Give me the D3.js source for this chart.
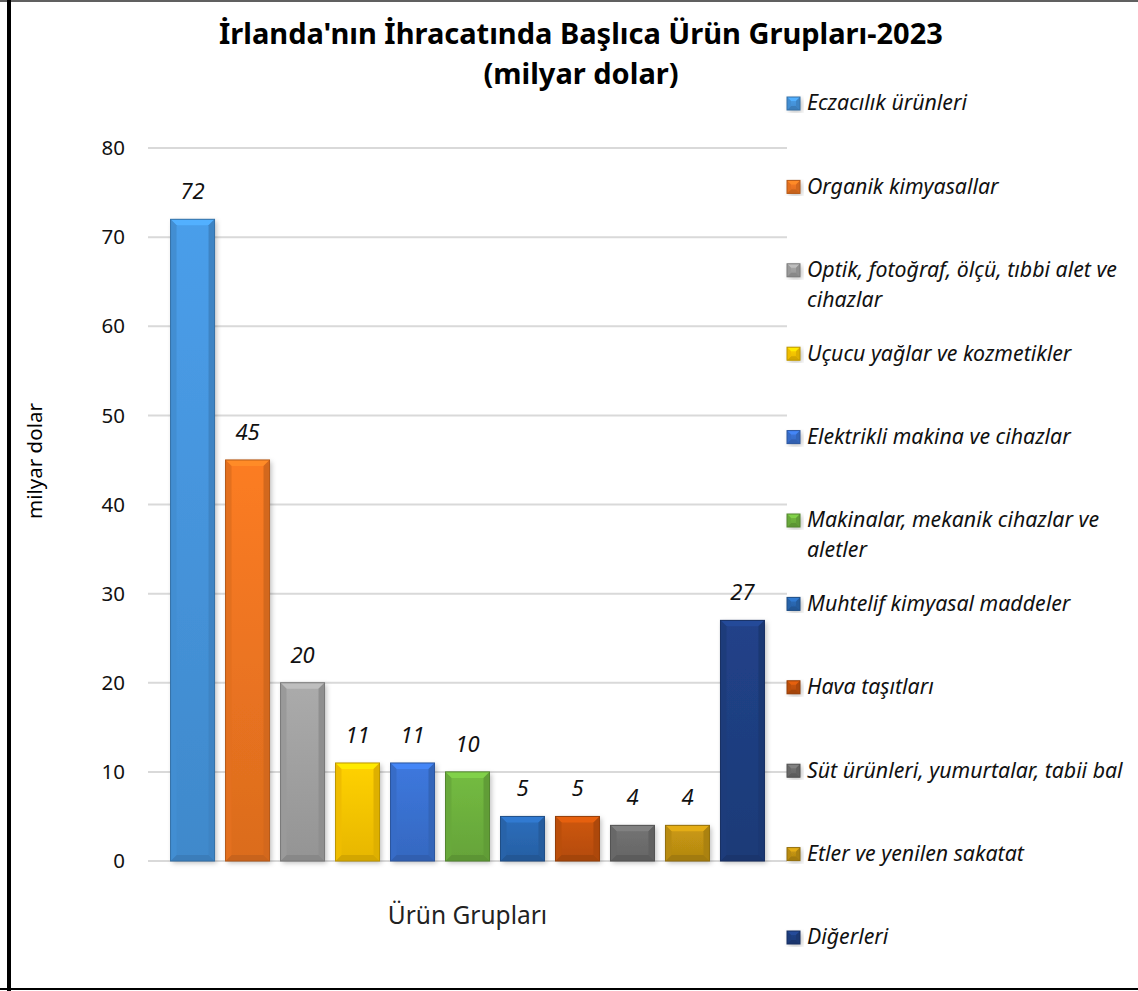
<!DOCTYPE html>
<html>
<head>
<meta charset="utf-8">
<script src="https://cdn.jsdelivr.net/npm/d3@7"></script>
<style>
  body { margin: 0; background: #fff; }
  svg { display: block; font-family: "Noto Sans", "Open Sans", sans-serif; }
</style>
</head>
<body>
<svg></svg>
<script>
const width = 1138;
const height = 991;

// data
const categories = [
  "Eczacılık ürünleri",
  "Organik kimyasallar",
  "Optik, fotoğraf, ölçü, tıbbi alet ve cihazlar",
  "Uçucu yağlar ve kozmetikler",
  "Elektrikli makina ve cihazlar",
  "Makinalar, mekanik cihazlar ve aletler",
  "Muhtelif kimyasal maddeler",
  "Hava taşıtları",
  "Süt ürünleri, yumurtalar, tabii bal",
  "Etler ve yenilen sakatat",
  "Diğerleri"
];
const values = [72, 45, 20, 11, 11, 10, 5, 5, 4, 4, 27];
const colors = ["#4696de", "#ef7621", "#a2a2a2", "#fcc700", "#3a72d2", "#6eb23e",
                "#2a68b2", "#c4520c", "#6e6e6e", "#c29312", "#1f3f82"];
const yTicks = [0, 10, 20, 30, 40, 50, 60, 70, 80];

const margin = {left: 148, right: 787, top: 148, bottom: 861};

const svg = d3.select("svg")
    .attr("width", width)
    .attr("height", height);

// frame
svg.append("line").attr("x1", 0).attr("x2", width).attr("y1", 1).attr("y2", 1)
    .style("stroke", "#606060").style("stroke-width", 2);
svg.append("line").attr("x1", 9).attr("x2", 9).attr("y1", 0).attr("y2", height)
    .style("stroke", "#000").style("stroke-width", 4);
svg.append("line").attr("x1", 0).attr("x2", width).attr("y1", 989).attr("y2", 989)
    .style("stroke", "#000").style("stroke-width", 2);

const defs = svg.append("defs");
const shadow = defs.append("filter").attr("id", "shadow")
    .attr("x", "-20%").attr("y", "-10%").attr("width", "150%").attr("height", "130%");
shadow.append("feDropShadow").attr("dx", 2).attr("dy", 2).attr("stdDeviation", 2.5)
    .attr("flood-color", "#000").attr("flood-opacity", 0.25);

colors.forEach((c, i) => {
  const g = defs.append("linearGradient").attr("id", "grad" + i)
      .attr("x1", 0).attr("x2", 0).attr("y1", 0).attr("y2", 1);
  g.append("stop").attr("offset", "0%").attr("stop-color", d3.color(c).brighter(0.15));
  g.append("stop").attr("offset", "100%").attr("stop-color", d3.color(c).darker(0.25));
});

const x = d3.scaleBand()
    .domain(categories)
    .range([margin.left, margin.right])
    .paddingInner(0.2)
    .paddingOuter(0.41);

const y = d3.scaleLinear()
    .domain([0, 80])
    .range([margin.bottom, margin.top]);

// gridlines
svg.append("g").selectAll("line")
  .data(yTicks)
  .join("line")
    .attr("x1", margin.left).attr("x2", margin.right)
    .attr("y1", d => y(d)).attr("y2", d => y(d))
    .style("stroke", "#d9d9d9").style("stroke-width", 2);

// y tick labels
svg.append("g").selectAll("text")
  .data(yTicks)
  .join("text")
    .attr("x", 125).attr("y", d => y(d))
    .attr("dy", "0.35em")
    .attr("text-anchor", "end")
    .style("font-size", "20.5px")
    .style("fill", "#111")
    .text(d => d);

// axis titles
svg.append("text")
    .attr("transform", "translate(35,461) rotate(-90)")
    .attr("text-anchor", "middle")
    .attr("dy", "0.35em")
    .style("font-size", "20.5px")
    .text("milyar dolar");

svg.append("text")
    .attr("x", (margin.left + margin.right) / 2).attr("y", 915)
    .attr("dy", "0.35em")
    .attr("text-anchor", "middle")
    .style("font-size", "24.5px")
    .style("fill", "#222")
    .text("Ürün Grupları");

// beveled bar
function bevelBar(g, bx, by, w, h, c, i, b) {
  const col = d3.color(c);
  g.append("rect").attr("x", bx).attr("y", by).attr("width", w).attr("height", h)
      .attr("fill", "url(#grad" + i + ")").attr("filter", "url(#shadow)");
  const poly = (pts, fill) => g.append("polygon")
      .attr("points", pts.map(p => p.join(",")).join(" ")).attr("fill", fill);
  poly([[bx, by], [bx + w, by], [bx + w - b, by + b], [bx + b, by + b]], col.brighter(0.45));
  poly([[bx, by + h], [bx + w, by + h], [bx + w - b, by + h - b], [bx + b, by + h - b]], col.darker(0.5));
  poly([[bx, by], [bx + b, by + b], [bx + b, by + h - b], [bx, by + h]], col.darker(0.15));
  poly([[bx + w, by], [bx + w - b, by + b], [bx + w - b, by + h - b], [bx + w, by + h]], col.darker(0.35));
  g.append("rect").attr("x", bx).attr("y", by).attr("width", w).attr("height", h)
      .attr("fill", "none").attr("stroke", col.darker(0.8)).attr("stroke-width", 1);
}

const bars = svg.append("g");
categories.forEach((cat, i) => {
  bevelBar(bars, x(cat), y(values[i]), x.bandwidth(), y(0) - y(values[i]), colors[i], i, 6);
});

// data labels
svg.append("g").selectAll("text")
  .data(values)
  .join("text")
    .attr("x", (d, i) => x(categories[i]) + x.bandwidth() / 2)
    .attr("y", d => y(d) - 20)
    .attr("text-anchor", "middle")
    .style("font-size", "22px")
    .style("font-style", "italic")
    .style("fill", "#111")
    .text(d => d);

// title
const title = svg.append("text")
    .attr("text-anchor", "middle")
    .style("font-weight", "bold")
    .style("font-size", "29px")
    .style("fill", "#000");
title.append("tspan").attr("x", 581).attr("y", 44).text("İrlanda'nın İhracatında Başlıca Ürün Grupları-2023");
title.append("tspan").attr("x", 581).attr("y", 84).text("(milyar dolar)");

// legend
const legend = svg.append("g");
const legY = d3.scaleLinear().domain([0, categories.length - 1]).range([103, 937]);
categories.forEach((cat, i) => {
  const ly = legY(i);
  bevelBar(legend, 787, ly - 6, 13, 13, colors[i], i, 4);
  const t = legend.append("text")
      .attr("x", 807).attr("y", ly)
      .attr("dy", "0.35em")
      .style("font-size", "21.3px")
      .style("font-style", "italic")
      .style("fill", "#111");
  // wrap to the available width
  const words = cat.split(" ");
  let line = [];
  let ts = t.append("tspan").attr("x", 807);
  words.forEach(w => {
    line.push(w);
    ts.text(line.join(" "));
    if (ts.node().getComputedTextLength() > 326 && line.length > 1) {
      line.pop();
      ts.text(line.join(" "));
      line = [w];
      ts = t.append("tspan").attr("x", 807).attr("dy", "30").text(w);
    }
  });
});
</script>
</body>
</html>
